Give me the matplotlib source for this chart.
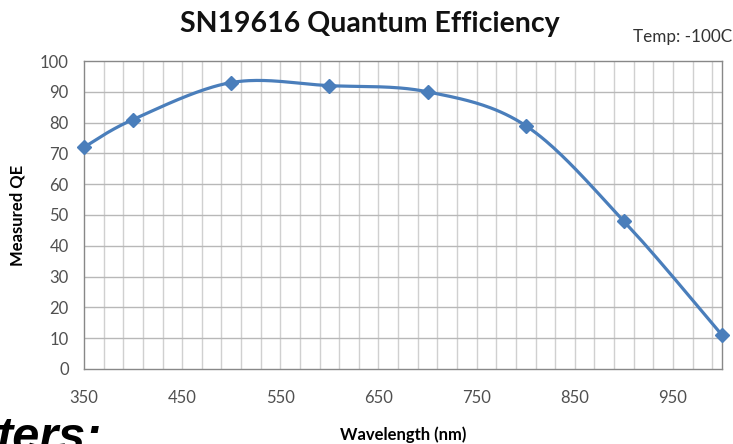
import numpy as np
import matplotlib
matplotlib.use("Agg")
import matplotlib.pyplot as plt

# data
wavelength = [350, 400, 500, 600, 700, 800, 900, 1000]
qe = [72, 81, 93, 92, 90, 79, 48, 11]
x_ticks = [350, 450, 550, 650, 750, 850, 950]
y_ticks = [0, 10, 20, 30, 40, 50, 60, 70, 80, 90, 100]

plt.rcParams['font.family'] = ['Lato', 'DejaVu Sans']


def excel_smooth(x, y, n=40):
    # Bezier smoothing like Excel's "smoothed line"
    x = np.asarray(x, float)
    y = np.asarray(y, float)
    px = np.concatenate([[x[0]], x, [x[-1]]])
    py = np.concatenate([[y[0]], y, [y[-1]]])
    xs, ys = [], []
    t = np.linspace(0, 1, n)
    for i in range(1, len(px) - 2):
        p0 = np.array([px[i], py[i]])
        p3 = np.array([px[i + 1], py[i + 1]])
        p1 = p0 + (np.array([px[i + 1], py[i + 1]]) - np.array([px[i - 1], py[i - 1]])) / 6
        p2 = p3 - (np.array([px[i + 2], py[i + 2]]) - np.array([px[i], py[i]])) / 6
        b = ((1 - t) ** 3)[:, None] * p0 + (3 * (1 - t) ** 2 * t)[:, None] * p1 \
            + (3 * (1 - t) * t ** 2)[:, None] * p2 + (t ** 3)[:, None] * p3
        xs.extend(b[:, 0])
        ys.extend(b[:, 1])
    return np.array(xs), np.array(ys)


fig = plt.figure(figsize=(7.33, 4.44), dpi=100)
ax = fig.add_axes([0.1146, 0.169, 0.8704, 0.6936])

blue = '#4A7EBB'
sx, sy = excel_smooth(wavelength, qe)
ax.plot(sx, sy, color=blue, lw=2.3, zorder=3, clip_on=False)
ax.plot(wavelength, qe, linestyle='none', marker='D', ms=7, color=blue, zorder=4, clip_on=False)

ax.set_xlim(350, 1000)
ax.set_ylim(0, 100)
ax.set_xticks(x_ticks)
ax.set_yticks(y_ticks)

ax.grid(False)
for v in np.arange(370, 1000, 20):
    ax.axvline(v, color='#D0D0D0', lw=1.0, zorder=1)
for v in y_ticks[1:-1]:
    ax.axhline(v, color='#B8B8B8', lw=1.0, zorder=1)

for s in ax.spines.values():
    s.set_color('#888888')
    s.set_linewidth(1.0)

ax.tick_params(axis='both', which='both', length=0, labelsize=12, labelcolor='#505050')
ax.tick_params(axis='x', pad=15)
ax.tick_params(axis='y', pad=11)

ax.set_xlabel('Wavelength (nm)', fontsize=12, fontweight='bold', labelpad=15)
ax.set_ylabel('Measured QE', fontsize=12, fontweight='bold', labelpad=10)

fig.text(0.505, 0.928, 'SN19616 Quantum Efficiency', ha='center', va='baseline',
         fontsize=20.5, fontweight='bold', color='#111111')
fig.text(0.999, 0.905, 'Temp: -100C', ha='right', va='baseline', fontsize=12.3, color='#333333')

# slide fragment at the bottom-left
fig.text(-0.004, -0.016, 'ters:', ha='left', va='baseline', fontsize=35,
         fontweight='bold', fontstyle='italic', family=['Liberation Sans', 'DejaVu Sans'])

fig.savefig('out.png', dpi=100)
